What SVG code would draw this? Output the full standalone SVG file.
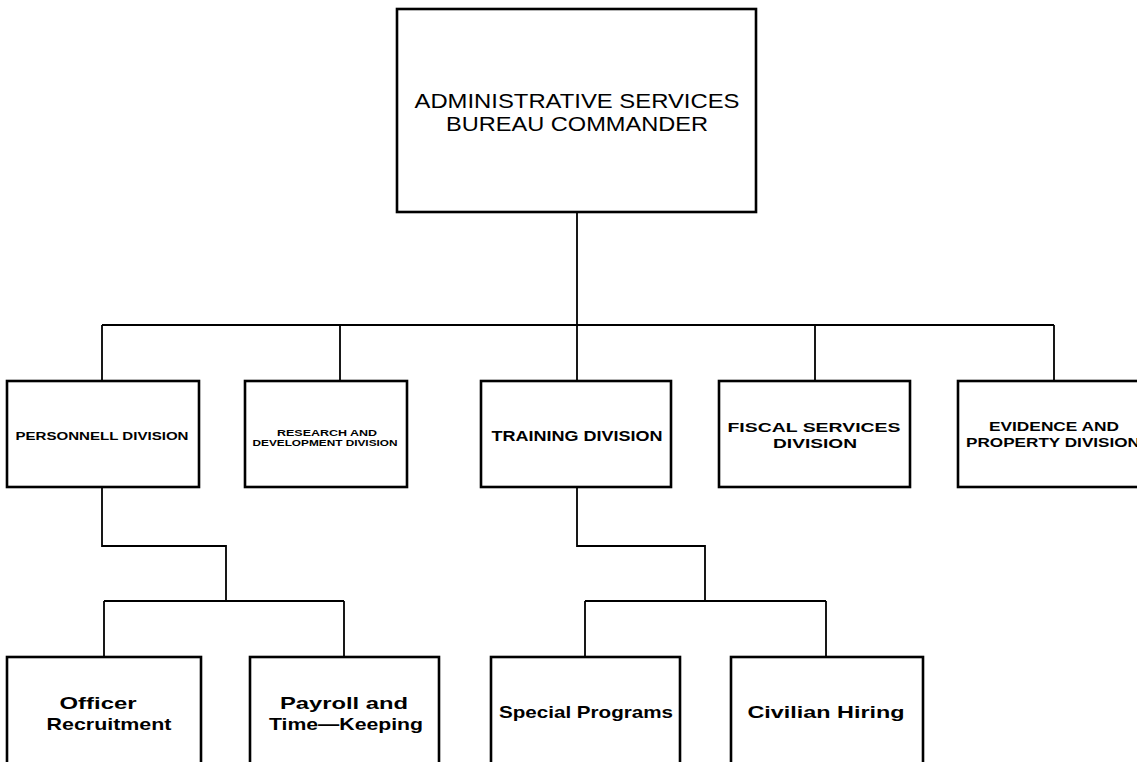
<svg xmlns="http://www.w3.org/2000/svg" width="1137" height="762" viewBox="0 0 1137 762">
<style>
.box{fill:#fff;stroke:#000;stroke-width:2.6}
.conn{fill:none;stroke:#000;stroke-width:1.8}
text{font-family:"Liberation Sans",Arial,sans-serif;fill:#000;text-anchor:middle}
.hd{font-size:21px;font-weight:normal}
.big{font-size:15px;font-weight:bold}
.two{font-size:13px;font-weight:bold}
.sm{font-size:10px;font-weight:bold}
.tiny{font-size:8.5px;font-weight:bold}
.low{font-size:17px;font-weight:bold}
</style>
<rect width="1137" height="762" fill="#fff"/>
<g id="connectors">
<path class="conn" d="M577 212V325M102 325H1054M102 325V381M340 325V381M577 325V381M815 325V381M1054 325V381"/>
<path class="conn" d="M102 487V546H226V601M104 601H344M104 601V657M344 601V657"/>
<path class="conn" d="M577 487V546H705V601M585 601H826M585 601V657M826 601V657"/>
</g>
<g id="commander">
<rect class="box" x="397" y="9" width="359" height="203"/>
<text class="hd" x="577" y="108" textLength="325" lengthAdjust="spacingAndGlyphs">ADMINISTRATIVE SERVICES</text>
<text class="hd" x="577" y="131" textLength="262" lengthAdjust="spacingAndGlyphs">BUREAU COMMANDER</text>
</g>
<g id="personnel">
<rect class="box" x="7" y="381" width="192" height="106"/>
<text class="sm" x="102" y="440" textLength="173" lengthAdjust="spacingAndGlyphs">PERSONNELL DIVISION</text>
</g>
<g id="research">
<rect class="box" x="245" y="381" width="162" height="106"/>
<text class="tiny" x="327" y="436" textLength="100" lengthAdjust="spacingAndGlyphs">RESEARCH AND</text>
<text class="tiny" x="325" y="446" textLength="145" lengthAdjust="spacingAndGlyphs">DEVELOPMENT DIVISION</text>
</g>
<g id="training">
<rect class="box" x="481" y="381" width="190" height="106"/>
<text class="big" x="577" y="441" textLength="171" lengthAdjust="spacingAndGlyphs">TRAINING DIVISION</text>
</g>
<g id="fiscal">
<rect class="box" x="719" y="381" width="191" height="106"/>
<text class="two" x="814" y="432" textLength="173" lengthAdjust="spacingAndGlyphs">FISCAL SERVICES</text>
<text class="two" x="815" y="448" textLength="84" lengthAdjust="spacingAndGlyphs">DIVISION</text>
</g>
<g id="evidence">
<rect class="box" x="958" y="381" width="192" height="106"/>
<text class="two" x="1054" y="431" textLength="130" lengthAdjust="spacingAndGlyphs">EVIDENCE AND</text>
<text class="two" x="1053" y="447" textLength="174" lengthAdjust="spacingAndGlyphs">PROPERTY DIVISION</text>
</g>
<g id="officer">
<rect class="box" x="7" y="657" width="194" height="120"/>
<text class="low" x="98" y="709" textLength="77" lengthAdjust="spacingAndGlyphs">Officer</text>
<text class="low" x="109" y="730" textLength="125" lengthAdjust="spacingAndGlyphs">Recruitment</text>
</g>
<g id="payroll">
<rect class="box" x="250" y="657" width="189" height="120"/>
<text class="low" x="344" y="709" textLength="128" lengthAdjust="spacingAndGlyphs">Payroll and</text>
<text class="low" x="346" y="730" textLength="154" lengthAdjust="spacingAndGlyphs">Time—Keeping</text>
</g>
<g id="special">
<rect class="box" x="491" y="657" width="189" height="120"/>
<text class="low" x="586" y="718" textLength="174" lengthAdjust="spacingAndGlyphs">Special Programs</text>
</g>
<g id="civilian">
<rect class="box" x="731" y="657" width="192" height="120"/>
<text class="low" x="826" y="718" textLength="157" lengthAdjust="spacingAndGlyphs">Civilian Hiring</text>
</g>
</svg>
